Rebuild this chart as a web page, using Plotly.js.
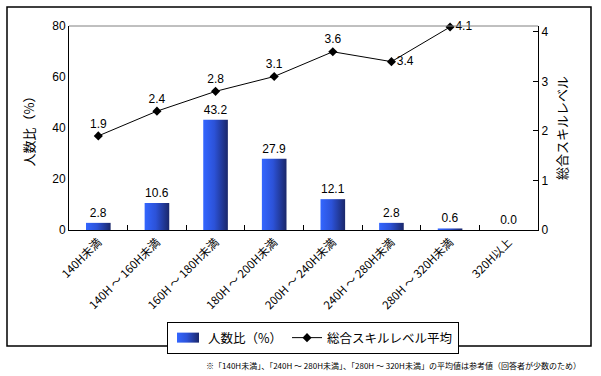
<!DOCTYPE html>
<html>
<head>
<meta charset="utf-8">
<script src="https://cdn.plot.ly/plotly-3.0.1.min.js"></script>
<style>
html,body{margin:0;padding:0;background:#fff;}
#chart{width:601px;height:376px;}
</style>
</head>
<body>
<div id="chart"></div>
<script>
// ---- data ----
const categories = ['140H未満','140H ～ 160H未満','160H ～ 180H未満','180H ～ 200H未満','200H ～ 240H未満','240H ～ 280H未満','280H ～ 320H未満','320H以上'];
const ratioPct = [2.8, 10.6, 43.2, 27.9, 12.1, 2.8, 0.6, 0.0];
const skillCategories = ['140H未満','140H ～ 160H未満','160H ～ 180H未満','180H ～ 200H未満','200H ～ 240H未満','240H ～ 280H未満','280H ～ 320H未満'];
const skillAvg = [1.9, 2.4, 2.8, 3.1, 3.6, 3.4, 4.1];
const barName = '人数比（%）';
const lineName = '総合スキルレベル平均';
const leftTitle = '人数比（%）';
const rightTitle = '総合スキルレベル';
const footnote = '※「140H未満」、「240H ～ 280H未満」、「280H ～ 320H未満」の平均値は参考値（回答者が少数のため）';

// ---- layout geometry (pixels) ----
const W = 601, H = 376;
const L = 69, R = 538, T = 26, B = 230;
const pw = R - L, ph = B - T;
const px = v => (v - L) / pw;
const py = v => (B - v) / ph;

const JP = '"Liberation Sans", Arial, "Noto Sans CJK JP", sans-serif';
const CJK = '"Noto Sans CJK JP", "Liberation Sans", sans-serif';

const labelPos = ['top center','top center','top center','top center','top center','middle right','middle right'];

const traces = [
  {
    type: 'bar',
    name: barName,
    x: categories,
    y: ratioPct,
    width: 0.42,
    marker: {color: '#2a4fd0', line: {width: 0}},
    text: ratioPct.map(v => v.toFixed(1)),
    textposition: 'outside',
    cliponaxis: false,
    textfont: {family: JP, size: 12, color: '#000'},
    hoverinfo: 'skip'
  },
  {
    type: 'scatter',
    name: lineName,
    x: skillCategories,
    y: skillAvg,
    yaxis: 'y2',
    mode: 'lines+markers+text',
    line: {color: '#000', width: 1},
    marker: {symbol: 'diamond', size: 7, color: '#000'},
    text: skillAvg.map(v => v.toFixed(1)),
    textposition: labelPos,
    cliponaxis: false,
    textfont: {family: JP, size: 12, color: '#000'},
    hoverinfo: 'skip'
  }
];

const layout = {
  width: W, height: H,
  margin: {l: L, r: W - R, t: T, b: H - B, pad: 0},
  paper_bgcolor: '#fff',
  plot_bgcolor: '#fff',
  showlegend: true,
  font: {family: JP, color: '#000'},
  xaxis: {
    type: 'category',
    showline: true, linecolor: '#000', linewidth: 1,
    ticks: 'inside', tickson: 'boundaries', ticklen: 5, tickcolor: '#000',
    tickangle: -45,
    tickfont: {family: CJK, size: 11.5, color: '#000'},
    showgrid: false, zeroline: false,
    fixedrange: true
  },
  yaxis: {
    range: [0, 80], dtick: 20,
    showline: true, linecolor: '#000', linewidth: 1,
    ticks: '', showgrid: false, zeroline: false,
    tickfont: {family: JP, size: 12, color: '#000'},
    title: {text: leftTitle, font: {family: CJK, size: 13, color: '#000'}, standoff: 14},
    fixedrange: true
  },
  yaxis2: {
    overlaying: 'y', side: 'right',
    range: [0, 4.12], dtick: 1,
    showline: true, linecolor: '#000', linewidth: 1,
    ticks: 'inside', ticklen: 5, tickcolor: '#000',
    showgrid: false, zeroline: false,
    tickfont: {family: JP, size: 12, color: '#000'},
    title: {text: rightTitle, font: {family: CJK, size: 13, color: '#000'}, standoff: 10},
    fixedrange: true
  },
  legend: {
    orientation: 'h',
    x: px(167), y: py(322), xanchor: 'left', yanchor: 'top',
    bgcolor: '#fff', bordercolor: '#000', borderwidth: 1,
    font: {family: CJK, size: 12.5, color: '#000'},
    itemwidth: 30, tracegroupgap: 0
  },
  shapes: [
    {type: 'line', xref: 'paper', yref: 'paper', x0: 0, x1: 1, y0: 1, y1: 1,
     line: {color: '#808080', width: 1}},
    {type: 'rect', xref: 'paper', yref: 'paper',
     x0: px(7), x1: px(591), y0: py(346), y1: py(7),
     line: {color: '#000', width: 1.5}, fillcolor: 'rgba(0,0,0,0)', layer: 'below'}
  ],
  annotations: [
    {text: footnote, xref: 'paper', yref: 'paper', x: px(583), y: py(365),
     xanchor: 'right', yanchor: 'middle', showarrow: false,
     font: {family: CJK, size: 8, color: '#000'}}
  ]
};

function applyGradient(gd) {
  const NS = 'http://www.w3.org/2000/svg';
  if (!document.getElementById('barGrad')) {
    const holder = document.createElementNS(NS, 'svg');
    holder.setAttribute('width', '0'); holder.setAttribute('height', '0');
    holder.style.position = 'absolute';
    const defs = document.createElementNS(NS, 'defs');
    const grad = document.createElementNS(NS, 'linearGradient');
    grad.setAttribute('id', 'barGrad');
    grad.setAttribute('x1', '0'); grad.setAttribute('y1', '0');
    grad.setAttribute('x2', '1'); grad.setAttribute('y2', '0');
    [['0%', '#3366ff'], ['45%', '#2c52d8'], ['100%', '#1a276a']].forEach(([o, c]) => {
      const s = document.createElementNS(NS, 'stop');
      s.setAttribute('offset', o); s.setAttribute('stop-color', c);
      grad.appendChild(s);
    });
    defs.appendChild(grad);
    holder.appendChild(defs);
    document.body.insertBefore(holder, document.body.firstChild);
  }
  gd.querySelectorAll('.barlayer .point path').forEach(p => { p.style.fill = 'url(#barGrad)'; });
  const items = gd.querySelectorAll('.legend .traces');
  if (items.length) {
    items[0].querySelectorAll('.legendpoints path').forEach(p => {
      p.setAttribute('d', 'M11,5H-11V-5H11Z');
      p.style.fill = 'url(#barGrad)';
    });
  }
}

Plotly.newPlot('chart', traces, layout, {staticPlot: true, displayModeBar: false}).then(gd => {
  applyGradient(gd);
  setTimeout(() => applyGradient(gd), 50);
});
</script>
</body>
</html>
